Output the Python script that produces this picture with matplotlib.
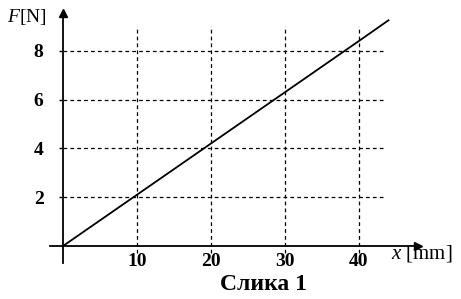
import matplotlib
matplotlib.use("Agg")
from matplotlib import pyplot as plt

# data
x_mm = [0, 10, 20, 30, 40, 44]
F_N = [0, 2.1, 4.2, 6.3, 8.4, 9.25]
x_ticks = [10, 20, 30, 40]
y_ticks = [2, 4, 6, 8]

plt.rcParams['font.family'] = ['Liberation Serif', 'DejaVu Serif']
plt.rcParams['mathtext.fontset'] = 'custom'
plt.rcParams['mathtext.it'] = 'Liberation Serif:italic'
plt.rcParams['mathtext.rm'] = 'Liberation Serif'

fig = plt.figure(figsize=(4.61, 2.99), dpi=100)
ax = fig.add_axes([0, 0, 1, 1])
ax.set_xlim(-8.51, 53.8)
ax.set_ylim(-2.17, 10.08)

# grid, dashed
dash = (0, (3, 2.5))
ax.hlines(y_ticks, 0, 43.5, colors='black', linestyles=dash, lw=0.9)
ax.vlines(x_ticks, -0.3, 9.0, colors='black', linestyles=dash, lw=0.9)

# the graph
ax.plot(x_mm, F_N, color='black', lw=1.3)

# axes with arrows
for s in ['top', 'right']:
    ax.spines[s].set_visible(False)
ax.spines['left'].set_position(('data', 0))
ax.spines['bottom'].set_position(('data', 0))
ax.spines['left'].set_bounds(-0.7, 9.5)
ax.spines['bottom'].set_bounds(-1.8, 47.8)
ax.spines['left'].set_linewidth(1.3)
ax.spines['bottom'].set_linewidth(1.3)
ax.plot(0, 9.55, marker='^', color='black', ms=6, clip_on=False)
ax.plot(48.0, 0, marker='>', color='black', ms=6, clip_on=False)

ax.set_xticks(x_ticks)
ax.set_yticks(y_ticks)
ax.tick_params(axis='x', length=0, pad=5, labelsize=14)
ax.tick_params(axis='y', length=3, width=1, pad=11, labelsize=14)
for lab in ax.get_xticklabels() + ax.get_yticklabels():
    lab.set_fontweight('bold')

ax.text(-7.6, 9.4, r'$F$[N]', fontsize=14, ha='left', va='center')
ax.text(44.4, -0.3, r'$x$ [mm]', fontsize=15, ha='left', va='center')

fig.text(263 / 461, 1 - 284 / 299, 'Слика 1', fontsize=17, fontweight='bold',
         ha='center', va='center')

fig.savefig('out.png', dpi=100)
